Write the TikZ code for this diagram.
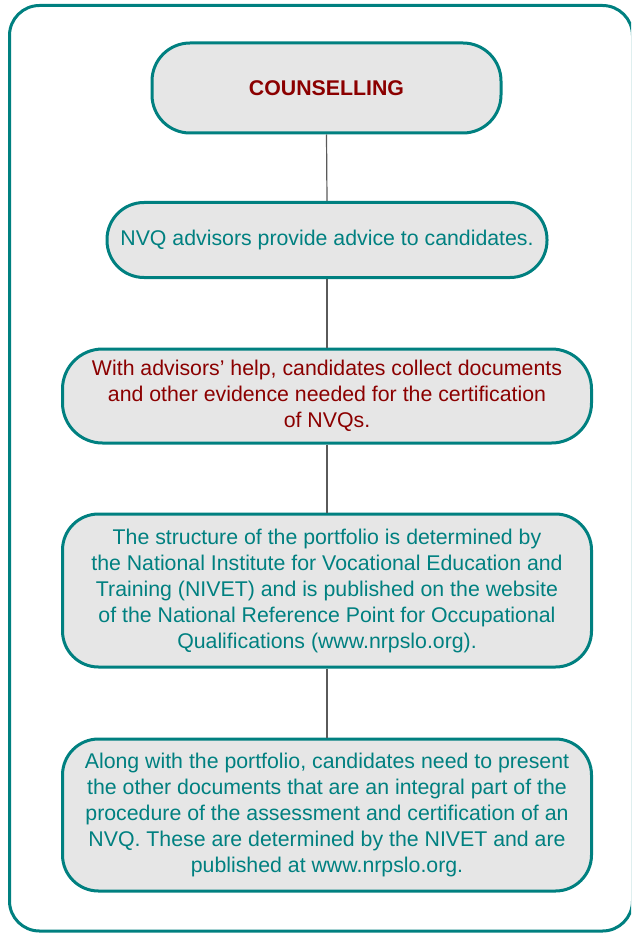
\documentclass[tikz,border=0pt]{standalone}
\usepackage{fontspec}
\setmainfont{Liberation Sans}
\definecolor{tealline}{RGB}{0,128,128}
\definecolor{tealtext}{RGB}{0,128,128}
\definecolor{darkredtext}{RGB}{139,0,0}
\definecolor{boxfill}{RGB}{230,230,230}
\definecolor{linkgray}{RGB}{90,90,90}
\begin{document}
\begin{tikzpicture}[x=1pt,y=-1pt,
  stagebox/.style={draw=tealline, line width=3pt, fill=boxfill, inner sep=0pt,
    align=center, font=\fontsize{21.3}{26}\selectfont},
  link/.style={draw=linkgray, line width=1.2pt}]
\useasboundingbox (0,0) rectangle (631,933);
\clip (0,0) rectangle (631,933);
\draw[tealline, line width=3pt, rounded corners=30pt] (9.5,5.5) rectangle (632.5,931);

\node[stagebox, rounded corners=38pt, minimum width=349pt, minimum height=90pt,
  text=darkredtext] (b1) at (326.5,88) {\textbf{COUNSELLING}};
\node[stagebox, rounded corners=37pt, minimum width=440pt, minimum height=75pt,
  text=tealtext] (b2) at (327,240) {NVQ advisors provide advice to candidates.};
\node[stagebox, rounded corners=40pt, minimum width=529pt, minimum height=94pt,
  text=darkredtext] (b3) at (327,396)
  {With advisors’ help, candidates collect documents\\and other evidence needed for the certification\\of NVQs.};
\node[stagebox, rounded corners=36pt, minimum width=529pt, minimum height=153pt,
  text=tealtext] (b4) at (327,590.5)
  {The structure of the portfolio is determined by\\the National Institute for Vocational Education and\\Training (NIVET) and is published on the website\\of the National Reference Point for Occupational\\Qualifications (www.nrpslo.org).};
\node[stagebox, rounded corners=36pt, minimum width=529pt, minimum height=152pt,
  text=tealtext] (b5) at (327,815)
  {Along with the portfolio, candidates need to present\\the other documents that are an integral part of the\\procedure of the assessment and certification of an\\NVQ. These are determined by the NIVET and are\\published at www.nrpslo.org.};

\draw[link] (b1.south) -- (b2.north);
\draw[link] (b2.south) -- (b3.north);
\draw[link] (b3.south) -- (b4.north);
\draw[link] (b4.south) -- (b5.north);
\end{tikzpicture}
\end{document}
